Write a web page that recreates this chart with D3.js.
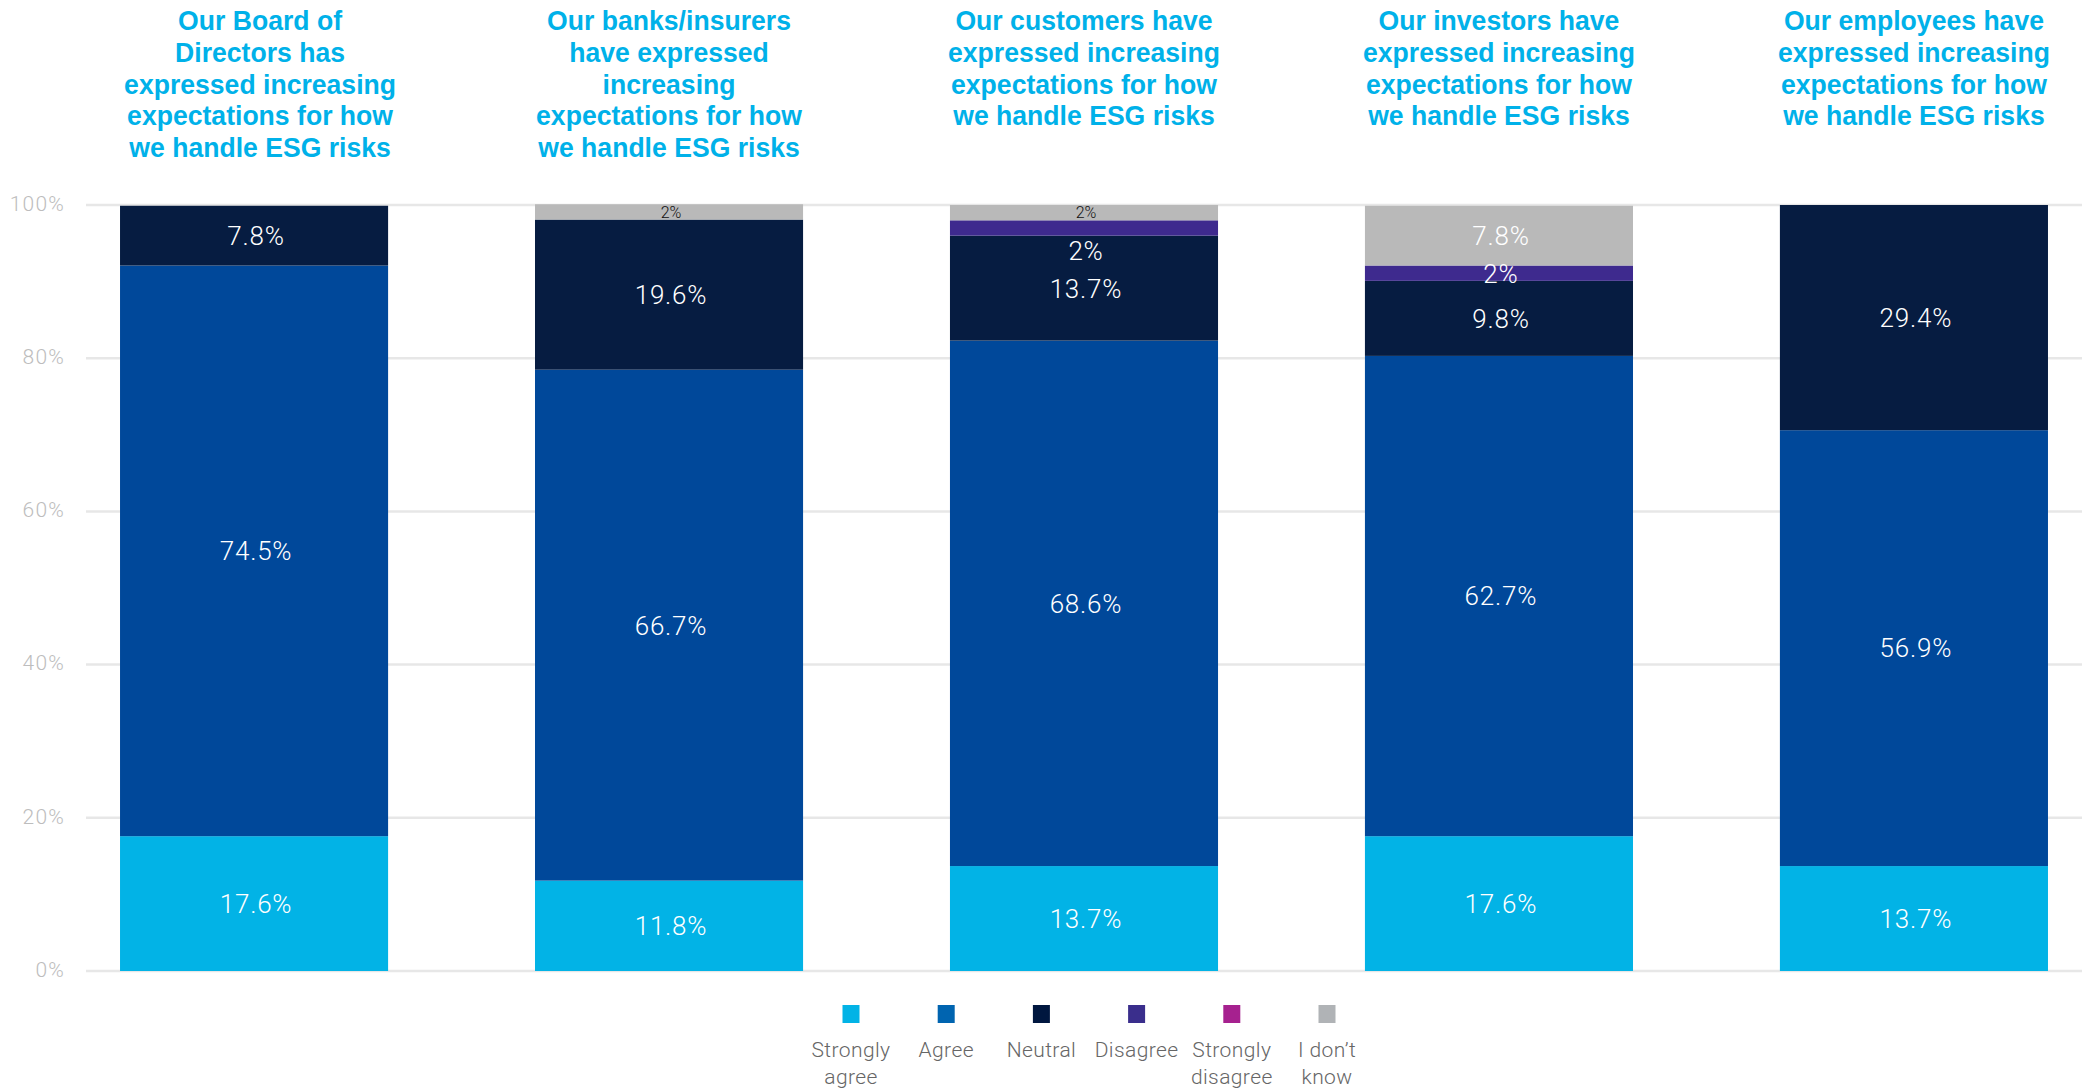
<!DOCTYPE html>
<html>
<head>
<meta charset="utf-8">
<script src="https://cdn.jsdelivr.net/npm/d3@7"></script>
<style>
  html, body { margin: 0; padding: 0; background: #ffffff; }
  svg { display: block; }
</style>
</head>
<body>
<svg id="chart" width="2089" height="1089"></svg>
<script>
// ---------------- DATA ----------------
const categories = ["Board of Directors", "Banks/insurers", "Customers", "Investors", "Employees"];
const titles = [
  ["Our Board of", "Directors has", "expressed increasing", "expectations for how", "we handle ESG risks"],
  ["Our banks/insurers", "have expressed", "increasing", "expectations for how", "we handle ESG risks"],
  ["Our customers have", "expressed increasing", "expectations for how", "we handle ESG risks"],
  ["Our investors have", "expressed increasing", "expectations for how", "we handle ESG risks"],
  ["Our employees have", "expressed increasing", "expectations for how", "we handle ESG risks"]
];
const seriesNames = ["Strongly agree", "Agree", "Neutral", "Disagree", "Strongly disagree", "I don\u2019t know"];
const legendLabels = [["Strongly", "agree"], ["Agree"], ["Neutral"], ["Disagree"], ["Strongly", "disagree"], ["I don\u2019t", "know"]];
const stronglyAgree    = [17.6, 11.8, 13.7, 17.6, 13.7];
const agree            = [74.5, 66.7, 68.6, 62.7, 56.9];
const neutral          = [7.8, 19.6, 13.7, 9.8, 29.4];
const disagree         = [0, 0, 2, 2, 0];
const stronglyDisagree = [0, 0, 0, 0, 0];
const dontKnow         = [0, 2, 2, 7.8, 0];
const yTicks = [0, 20, 40, 60, 80, 100];

const seriesValues = [stronglyAgree, agree, neutral, disagree, stronglyDisagree, dontKnow];
const barColors    = ["#02b3e6", "#00489a", "#061c41", "#3e2a8e", "#a6218f", "#b9b9b9"];
const legendColors = ["#02b3e6", "#0064b0", "#00173f", "#3a2e8c", "#a6218f", "#b0b3b6"];

// ---------------- LAYOUT ----------------
const svg = d3.select("#chart");
const plot = { left: 86, right: 2082, top: 205, bottom: 971 };

const x = d3.scaleBand()
  .domain(categories)
  .range([plot.left, plot.right])
  .paddingInner(0.354)
  .paddingOuter(0.082);

const y = d3.scaleLinear().domain([0, 100]).range([plot.bottom, plot.top]);

const lightFont = "Roboto, 'Open Sans', 'Liberation Sans', sans-serif";

// gridlines
svg.append("g")
  .selectAll("line")
  .data(yTicks)
  .join("line")
  .attr("x1", plot.left)
  .attr("x2", plot.right)
  .attr("y1", d => y(d))
  .attr("y2", d => y(d))
  .attr("stroke", "#e7e7e7")
  .attr("stroke-width", 2.5);

// y axis labels
const yAxis = d3.axisLeft(y).tickValues(yTicks).tickFormat(d => d + "%").tickSize(0).tickPadding(0);
const yAxisG = svg.append("g").attr("transform", `translate(65,0)`).call(yAxis);
yAxisG.select(".domain").remove();
yAxisG.selectAll("text")
  .attr("font-family", lightFont)
  .attr("font-weight", 300)
  .attr("font-size", 21)
  .attr("letter-spacing", 1.2)
  .attr("fill", "#bdbdbd")
  .attr("dy", "0.25em");

// stacked data
const rows = categories.map((c, i) => {
  const r = { category: c };
  seriesNames.forEach((s, k) => { r[s] = seriesValues[k][i]; });
  return r;
});
const stack = d3.stack().keys(seriesNames);
const stacked = stack(rows);

// bars
const layers = svg.append("g")
  .selectAll("g")
  .data(stacked)
  .join("g")
  .attr("fill", (d, k) => barColors[k]);

layers.selectAll("rect")
  .data(d => d.map(p => ({ p, key: d.key })))
  .join("rect")
  .attr("x", d => x(d.p.data.category))
  .attr("width", x.bandwidth())
  .attr("y", d => y(d.p[1]))
  .attr("height", d => Math.max(0, y(d.p[0]) - y(d.p[1])));

// value labels (top to bottom per bar, with simple collision avoidance)
const labelG = svg.append("g");
categories.forEach((c, i) => {
  const items = [];
  stacked.forEach((layer, k) => {
    const v = seriesValues[k][i];
    if (!v) return;
    const p = layer[i];
    const small = (seriesNames[k] === "I don\u2019t know" && v < 3);
    items.push({ v, k, cy: y((p[0] + p[1]) / 2), small });
  });
  items.sort((a, b) => a.cy - b.cy);
  let prev = -Infinity;
  items.forEach(it => {
    let cy = it.cy;
    if (cy < prev + 38) cy = prev + 38;
    prev = cy;
    labelG.append("text")
      .attr("x", x(c) + x.bandwidth() / 2 + 2)
      .attr("y", cy)
      .attr("dy", "0.36em")
      .attr("text-anchor", "middle")
      .attr("font-family", lightFont)
      .attr("font-weight", 300)
      .attr("font-size", it.small ? 16 : 26)
      .attr("letter-spacing", it.small ? 0 : 0.8)
      .attr("fill", it.small ? "#111111" : "#ffffff")
      .text(d3.format("~")(it.v) + "%");
  });
});

// titles
const titleG = svg.append("g");
categories.forEach((c, i) => {
  const g = titleG.append("g")
    .attr("transform", `translate(${x(c) + x.bandwidth() / 2 + (i === 0 ? 6 : 0)},0) scale(0.95,1)`);
  g.selectAll("text")
    .data(titles[i])
    .join("text")
    .attr("x", 0)
    .attr("y", (d, j) => 30 + j * 31.8)
    .attr("text-anchor", "middle")
    .attr("font-family", "'Liberation Sans', Arial, sans-serif")
    .attr("font-weight", 700)
    .attr("font-size", 28)
    .attr("fill", "#00b1e9")
    .text(d => d);
});

// legend
const legendScale = d3.scalePoint().domain(seriesNames).range([851, 1327]);
const legG = svg.append("g");
const items = legG.selectAll("g")
  .data(seriesNames)
  .join("g")
  .attr("transform", d => `translate(${legendScale(d)},0)`);
items.append("rect")
  .attr("x", -8.5)
  .attr("y", 1005)
  .attr("width", 17)
  .attr("height", 18)
  .attr("fill", (d, k) => legendColors[k]);
items.each(function (d, k) {
  d3.select(this).selectAll("text")
    .data(legendLabels[k])
    .join("text")
    .attr("x", 0)
    .attr("y", (t, j) => 1057 + j * 27)
    .attr("text-anchor", "middle")
    .attr("font-family", lightFont)
    .attr("font-weight", 300)
    .attr("font-size", 21)
    .attr("letter-spacing", 0.4)
    .attr("fill", "#666666")
    .text(t => t);
});
</script>
</body>
</html>
